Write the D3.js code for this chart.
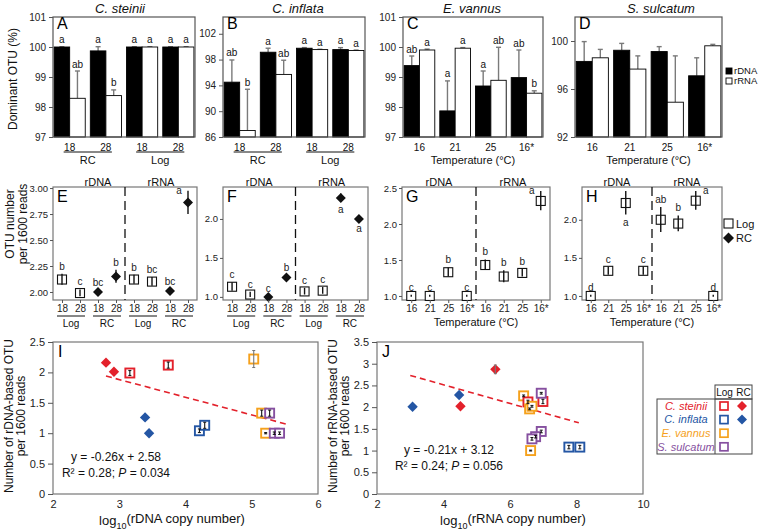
<!DOCTYPE html>
<html>
<head>
<meta charset="utf-8">
<script src="https://cdn.jsdelivr.net/npm/d3@7"></script>
<style>
  body { margin: 0; background: #fff; }
  svg { display: block; font-family: "Liberation Sans", Arial, sans-serif; }
</style>
</head>
<body>
<svg id="fig" width="760" height="532"></svg>
<script>
// Multi-panel figure: dominant OTU bars (A-D), OTU numbers (E-H), copy number regressions (I, J).

// ---------- data: row 1, dominant OTU (%) ----------
const groupsGrowth = ["18", "28", "18", "28"];
const groupsTemp = ["16", "21", "25", "16*"];

const aDNA = [100.0, 99.87, 100.0, 100.0];
const aDNAerr = [0.01, 0.14, 0.01, 0.01];
const aRNA = [98.29, 98.38, 100.0, 100.0];
const aRNAerr = [0.91, 0.19, 0.01, 0.01];
const aLetters = ["a", "ab", "a", "b", "a", "a", "a", "a"];

const bDNA = [94.5, 99.14, 99.76, 99.55];
const bDNAerr = [3.44, 0.62, 0.1, 0.3];
const bRNA = [87.0, 95.7, 99.55, 99.4];
const bRNAerr = [6.4, 2.2, 0.05, 0.08];
const bLetters = ["ab", "b", "a", "ab", "a", "a", "a", "a"];

const cDNA = [99.38, 97.87, 98.7, 98.98];
const cDNAerr = [0.32, 1.0, 0.5, 0.92];
const cRNA = [99.9, 99.96, 98.89, 98.46];
const cRNAerr = [0.03, 0.02, 1.1, 0.08];
const cLetters = ["ab", "a", "a", "a", "a", "ab", "ab", "b"];

const dDNA = [98.3, 99.23, 99.12, 97.1];
const dDNAerr = [1.65, 0.57, 0.41, 1.5];
const dRNA = [98.6, 97.66, 94.9, 99.6];
const dRNAerr = [0.7, 1.1, 3.86, 0.12];

// ---------- data: row 2, OTU number per 1600 reads ----------
const eVals = [2.12, 1.99, 2.0, 2.15, 2.12, 2.10, 2.01, 2.86];
const eErr = [0.05, 0.03, 0.01, 0.06, 0.04, 0.04, 0.01, 0.11];
const eKind = ["L", "L", "R", "R", "L", "L", "R", "R"];
const eLetters = ["b", "c", "bc", "b", "b", "bc", "bc", "a"];
const eLetterPos = ["t", "t", "t", "t", "t", "t", "t", "l"];

const fVals = [1.13, 1.03, 1.0, 1.25, 1.07, 1.08, 2.27, 2.0];
const fErr = [0.05, 0.03, 0.01, 0.03, 0.04, 0.04, 0.05, 0.02];
const fKind = ["L", "L", "R", "R", "L", "L", "R", "R"];
const fLetters = ["c", "c", "c", "b", "c", "c", "a", "a"];
const fLetterPos = ["t", "t", "t", "t", "t", "t", "b", "b"];

const gVals = [1.0, 1.0, 1.33, 1.0, 1.43, 1.27, 1.32, 2.32];
const gErr = [0.01, 0.01, 0.06, 0.01, 0.07, 0.08, 0.05, 0.13];
const gLetters = ["c", "c", "b", "c", "b", "b", "b", "a"];
const gLetterPos = ["t", "t", "t", "t", "t", "t", "t", "l"];

const hVals = [1.0, 1.33, 2.22, 1.33, 2.0, 1.95, 2.25, 1.0];
const hErr = [0.01, 0.05, 0.15, 0.05, 0.16, 0.1, 0.12, 0.01];
const hLetters = ["d", "c", "a", "c", "ab", "b", "a", "d"];
const hLetterPos = ["t", "t", "b", "t", "t", "t", "r", "t"];

// ---------- data: row 3, regressions ----------
// species: s = C. steinii, i = C. inflata, v = E. vannus, p = S. sulcatum; kind L = Log, R = RC
const iX = [2.80, 2.92, 3.16, 3.74, 3.39, 3.45, 4.21, 4.29, 5.03, 5.15, 5.21, 5.27, 5.34, 5.42];
const iY = [2.16, 2.01, 1.99, 2.12, 1.26, 1.00, 1.04, 1.13, 2.22, 1.33, 1.00, 1.33, 1.00, 1.00];
const iErr = [0, 0, 0.04, 0.05, 0, 0, 0.03, 0.05, 0.14, 0.05, 0.01, 0.05, 0.02, 0.02];
const iSpecies = ["s", "s", "s", "s", "i", "i", "i", "i", "v", "v", "v", "p", "p", "p"];
const iKind = ["R", "R", "L", "L", "R", "R", "L", "L", "L", "L", "L", "L", "L", "L"];
const iTrend = [[2.8, 1.94], [5.52, 1.15]];

const jX = [3.07, 4.47, 4.51, 5.56, 6.41, 6.54, 6.59, 6.66, 6.99, 6.94, 6.94, 6.77, 6.66, 6.62, 7.77, 8.10];
const jY = [2.01, 2.28, 2.02, 2.87, 2.26, 2.12, 1.96, 2.02, 2.13, 2.32, 1.44, 1.32, 1.27, 1.00, 1.08, 1.08];
const jErr = [0, 0, 0, 0.1, 0.02, 0.04, 0.02, 0.02, 0.05, 0.02, 0.03, 0.03, 0.03, 0.01, 0.04, 0.04];
const jSpecies = ["i", "i", "s", "s", "v", "s", "v", "v", "s", "p", "p", "p", "p", "v", "i", "i"];
const jKind = ["R", "R", "R", "R", "L", "L", "L", "L", "L", "L", "L", "L", "L", "L", "L", "L"];
const jTrend = [[3.0, 2.73], [8.07, 1.64]];

const legendSpecies = ["C. steinii", "C. inflata", "E. vannus", "S. sulcatum"];
const legendKeys = ["s", "i", "v", "p"];
const legendHasRC = [true, true, false, false];

const COLORS = { s: "#e3212b", i: "#2456a4", v: "#f5a11c", p: "#8650a0" };

const svg = d3.select("#fig");

function diamond(r) { return `M0,${-r}L${r},0L0,${r}L${-r},0Z`; }

function txt(g, x, y, s, o = {}) {
  return g.append("text").attr("x", x).attr("y", y).attr("dy", "0.35em")
    .attr("text-anchor", o.anchor || "middle").attr("font-size", o.size || 10)
    .attr("font-style", o.italic ? "italic" : null)
    .attr("fill", o.fill || "#111").text(s);
}

function vlabel(lines, x, y, step, size) {
  lines.forEach((s, k) => {
    svg.append("text").attr("transform", `translate(${x + k * step},${y}) rotate(-90)`)
      .attr("text-anchor", "middle").attr("dy", "0.35em").attr("font-size", size)
      .attr("fill", "#111").text(s);
  });
}

function styleAxis(sel, size) {
  sel.attr("font-family", null).attr("font-size", size);
  sel.select(".domain").remove();
  sel.selectAll("line").attr("stroke", "#555");
  sel.selectAll("text").attr("fill", "#222");
}

// ---------- row 1: bars ----------
const R1 = { top: 17, bottom: 137 };

function barPanel(p) {
  const g = svg.append("g");
  const x = d3.scaleBand().domain(d3.range(4)).range([p.x0, p.x1]).paddingInner(0.14).paddingOuter(0.03);
  const s = d3.scaleBand().domain(["dna", "rna"]).range([0, x.bandwidth()]);
  const y = d3.scaleLinear().domain(p.ydom).range([R1.bottom, R1.top]);
  const rows = [];
  p.dna.forEach((v, i) => rows.push({ i, k: "dna", v, e: p.dnaErr[i], l: p.letters ? p.letters[2 * i] : "" }));
  p.rna.forEach((v, i) => rows.push({ i, k: "rna", v, e: p.rnaErr[i], l: p.letters ? p.letters[2 * i + 1] : "" }));
  const cx = (d) => x(d.i) + s(d.k) + s.bandwidth() / 2;

  g.selectAll("line.err").data(rows).join("line").attr("class", "err")
    .attr("x1", cx).attr("x2", cx).attr("y1", (d) => y(d.v)).attr("y2", (d) => y(d.v + d.e))
    .attr("stroke", "#7a7a7a").attr("stroke-width", 1.4);
  g.selectAll("line.cap").data(rows).join("line").attr("class", "cap")
    .attr("x1", (d) => cx(d) - 2.5).attr("x2", (d) => cx(d) + 2.5)
    .attr("y1", (d) => y(d.v + d.e)).attr("y2", (d) => y(d.v + d.e))
    .attr("stroke", "#7a7a7a").attr("stroke-width", 1.4);
  g.selectAll("rect.bar").data(rows).join("rect").attr("class", "bar")
    .attr("x", (d) => x(d.i) + s(d.k)).attr("width", s.bandwidth())
    .attr("y", (d) => y(d.v)).attr("height", (d) => y(p.ydom[0]) - y(d.v))
    .attr("fill", (d) => (d.k === "dna" ? "#000" : "#fff"))
    .attr("stroke", "#000").attr("stroke-width", 0.9);
  g.selectAll("text.let").data(rows).join("text").attr("class", "let")
    .attr("x", cx).attr("y", (d) => y(d.v + d.e) - 7).attr("dy", "0.35em")
    .attr("text-anchor", "middle").attr("font-size", 10).attr("fill", "#111").text((d) => d.l);

  g.append("rect").attr("x", p.x0).attr("y", R1.top).attr("width", p.x1 - p.x0)
    .attr("height", R1.bottom - R1.top).attr("fill", "none").attr("stroke", "#555").attr("stroke-width", 1.2);
  g.append("g").attr("transform", `translate(${p.x0},0)`)
    .call(d3.axisLeft(y).tickValues(p.yticks).tickSize(4).tickPadding(3).tickFormat(d3.format("d")))
    .call(styleAxis, 10);

  p.groups.forEach((lab, i) => txt(g, x(i) + x.bandwidth() / 2, 147, lab, { size: 10 }));
  if (p.pairs) {
    p.pairs.forEach((lab, k) => {
      const a = x(2 * k) + x.bandwidth() / 2 - 6, b = x(2 * k + 1) + x.bandwidth() / 2 + 6;
      g.append("line").attr("x1", a).attr("x2", b).attr("y1", 152).attr("y2", 152)
        .attr("stroke", "#111").attr("stroke-width", 1);
      txt(g, (a + b) / 2, 160, lab, { size: 11 });
    });
  } else {
    txt(g, (p.x0 + p.x1) / 2, 160, "Temperature (°C)", { size: 11 });
  }
  txt(g, p.titleX, 8, p.title, { size: 13, italic: true });
  g.append("text").attr("x", p.x0 + 4).attr("y", R1.top + 12).attr("font-size", 16).text(p.tag);
}

barPanel({ x0: 53, x1: 195, ydom: [97, 101], yticks: [97, 98, 99, 100, 101], dna: aDNA, dnaErr: aDNAerr,
  rna: aRNA, rnaErr: aRNAerr, letters: aLetters, groups: groupsGrowth, pairs: ["RC", "Log"],
  title: "C. steinii", titleX: 120, tag: "A" });
barPanel({ x0: 223, x1: 365, ydom: [86, 104.6], yticks: [86, 90, 94, 98, 102], dna: bDNA, dnaErr: bDNAerr,
  rna: bRNA, rnaErr: bRNAerr, letters: bLetters, groups: groupsGrowth, pairs: ["RC", "Log"],
  title: "C. inflata", titleX: 298, tag: "B" });
barPanel({ x0: 403, x1: 543, ydom: [97, 101], yticks: [97, 98, 99, 100, 101], dna: cDNA, dnaErr: cDNAerr,
  rna: cRNA, rnaErr: cRNAerr, letters: cLetters, groups: groupsTemp, pairs: null,
  title: "E. vannus", titleX: 472, tag: "C" });
barPanel({ x0: 575, x1: 722, ydom: [92, 102], yticks: [92, 96, 100], dna: dDNA, dnaErr: dDNAerr,
  rna: dRNA, rnaErr: dRNAerr, letters: null, groups: groupsTemp, pairs: null,
  title: "S. sulcatum", titleX: 661, tag: "D" });

vlabel(["Dominant OTU (%)"], 13, 79, 0, 12);

// bar legend
[["rDNA", "#000"], ["rRNA", "#fff"]].forEach(([lab, fill], k) => {
  svg.append("rect").attr("x", 726).attr("y", 68 + k * 10).attr("width", 6).attr("height", 6)
    .attr("fill", fill).attr("stroke", "#000").attr("stroke-width", 0.9);
  txt(svg, 734, 71 + k * 10, lab, { size: 9.5, anchor: "start" });
});

// ---------- row 2: OTU numbers ----------
const R2 = { top: 187, bottom: 300 };

function dotPanel(p) {
  const g = svg.append("g");
  const x = d3.scalePoint().domain(d3.range(8)).range([p.x0, p.x1]).padding(0.5);
  const y = d3.scaleLinear().domain(p.ydom).range([R2.bottom, R2.top]);
  const pts = p.vals.map((v, i) => ({ i, v, e: p.err[i], k: p.kind[i], l: p.letters[i], pos: p.letterPos[i] }));

  g.append("rect").attr("x", p.x0).attr("y", R2.top).attr("width", p.x1 - p.x0)
    .attr("height", R2.bottom - R2.top).attr("fill", "none").attr("stroke", "#777").attr("stroke-width", 1.2);
  const mid = (x(3) + x(4)) / 2;
  g.append("line").attr("x1", mid).attr("x2", mid).attr("y1", R2.top).attr("y2", R2.bottom)
    .attr("stroke", "#111").attr("stroke-width", 1.3).attr("stroke-dasharray", "9,5");

  g.selectAll("rect.sq").data(pts.filter((d) => d.k === "L")).join("rect").attr("class", "sq")
    .attr("x", (d) => x(d.i) - 4.5).attr("y", (d) => y(d.v) - 4.5).attr("width", 9).attr("height", 9)
    .attr("fill", "#fff").attr("stroke", "#111").attr("stroke-width", 1.1);
  g.selectAll("line.err").data(pts).join("line").attr("class", "err")
    .attr("x1", (d) => x(d.i)).attr("x2", (d) => x(d.i))
    .attr("y1", (d) => y(d.v - d.e)).attr("y2", (d) => y(d.v + d.e) - 0.5)
    .attr("stroke", "#111").attr("stroke-width", 1.4);
  g.selectAll("path.dm").data(pts.filter((d) => d.k === "R")).join("path").attr("class", "dm")
    .attr("transform", (d) => `translate(${x(d.i)},${y(d.v)})`).attr("d", diamond(5)).attr("fill", "#111");

  const lx = (d) => x(d.i) + (d.pos === "l" ? -9 : d.pos === "r" ? 10 : 0);
  const ly = (d) => (d.pos === "b" ? y(d.v - d.e) + 8 : d.pos === "t" ? y(d.v + d.e) - 8 : y(d.v + d.e) - 1);
  g.selectAll("text.let").data(pts).join("text").attr("class", "let")
    .attr("x", lx).attr("y", ly).attr("dy", "0.35em").attr("text-anchor", "middle")
    .attr("font-size", 10).attr("fill", "#222").text((d) => d.l);

  g.append("g").attr("transform", `translate(${p.x0},0)`)
    .call(d3.axisLeft(y).tickValues(p.yticks).tickSize(3).tickPadding(2).tickFormat(d3.format(p.fmt)))
    .call(styleAxis, 9.5);
  g.append("g").attr("transform", `translate(0,${R2.bottom})`)
    .call(d3.axisBottom(x).tickSize(3).tickPadding(2).tickFormat((i) => p.groups[i % 4]))
    .call(styleAxis, 10);

  txt(g, (p.x0 + mid) / 2 + p.headShift, 182, "rDNA", { size: 11 });
  txt(g, (mid + p.x1) / 2, 182, "rRNA", { size: 11 });
  if (p.pairs) {
    p.pairs.forEach((lab, k) => {
      const a = x(2 * k) - 5, b = x(2 * k + 1) + 5;
      g.append("line").attr("x1", a).attr("x2", b).attr("y1", 316).attr("y2", 316)
        .attr("stroke", "#111").attr("stroke-width", 1);
      txt(g, (a + b) / 2, 323, lab, { size: 10 });
    });
  } else {
    txt(g, (p.x0 + p.x1) / 2, 322, "Temperature (°C)", { size: 11 });
  }
  g.append("text").attr("x", p.x0 + 4).attr("y", R2.top + 15).attr("font-size", 16).text(p.tag);
}

dotPanel({ x0: 53, x1: 197, ydom: [1.923, 3.01], yticks: [2, 2.25, 2.5, 2.75, 3], fmt: ".2f",
  vals: eVals, err: eErr, kind: eKind, letters: eLetters, letterPos: eLetterPos,
  groups: groupsGrowth.slice(0, 2).concat(groupsGrowth.slice(0, 2)), pairs: ["Log", "RC", "Log", "RC"], headShift: 9, tag: "E" });
dotPanel({ x0: 223, x1: 368, ydom: [0.96, 2.41], yticks: [1, 1.5, 2], fmt: ".1f",
  vals: fVals, err: fErr, kind: fKind, letters: fLetters, letterPos: fLetterPos,
  groups: groupsGrowth.slice(0, 2).concat(groupsGrowth.slice(0, 2)), pairs: ["Log", "RC", "Log", "RC"], headShift: 0, tag: "F" });
dotPanel({ x0: 402, x1: 550, ydom: [0.944, 2.514], yticks: [1, 1.5, 2, 2.5], fmt: ".1f",
  vals: gVals, err: gErr, kind: gVals.map(() => "L"), letters: gLetters, letterPos: gLetterPos,
  groups: groupsTemp, pairs: null, headShift: 0, tag: "G" });
dotPanel({ x0: 582, x1: 722, ydom: [0.947, 2.43], yticks: [1, 1.5, 2], fmt: ".1f",
  vals: hVals, err: hErr, kind: hVals.map(() => "L"), letters: hLetters, letterPos: hLetterPos,
  groups: groupsTemp, pairs: null, headShift: 0, tag: "H" });

vlabel(["OTU number", "per 1600 reads"], 10, 224, 13, 12);

// dot legend
svg.append("rect").attr("x", 724).attr("y", 219).attr("width", 9).attr("height", 9)
  .attr("fill", "#fff").attr("stroke", "#111").attr("stroke-width", 1.1);
txt(svg, 736, 224, "Log", { size: 11, anchor: "start" });
svg.append("path").attr("transform", "translate(728.5,238)").attr("d", diamond(5.5)).attr("fill", "#111");
txt(svg, 736, 238, "RC", { size: 11, anchor: "start" });

// ---------- row 3: regressions ----------
const R3 = { top: 342, bottom: 494 };

function scatterPanel(p) {
  const g = svg.append("g");
  const x = d3.scaleLinear().domain(p.xdom).range([p.x0, p.x1]);
  const y = d3.scaleLinear().domain(p.ydom).range([R3.bottom, R3.top]);
  const pts = p.xs.map((v, i) => ({ x: v, y: p.ys[i], e: p.err[i], sp: p.species[i], k: p.kind[i] }));

  g.append("rect").attr("x", p.x0).attr("y", R3.top).attr("width", p.x1 - p.x0)
    .attr("height", R3.bottom - R3.top).attr("fill", "none").attr("stroke", "#777").attr("stroke-width", 1.2);
  g.append("g").attr("transform", `translate(${p.x0},0)`)
    .call(d3.axisLeft(y).tickValues(p.yticks).tickSize(5).tickPadding(3).tickFormat((d) => String(d)))
    .call(styleAxis, 11);
  g.append("g").attr("transform", `translate(0,${R3.bottom})`)
    .call(d3.axisBottom(x).tickValues(p.xticks).tickSize(0).tickPadding(6).tickFormat((d) => String(d)))
    .call(styleAxis, 11);

  g.append("line").attr("x1", x(p.trend[0][0])).attr("y1", y(p.trend[0][1]))
    .attr("x2", x(p.trend[1][0])).attr("y2", y(p.trend[1][1]))
    .attr("stroke", COLORS.s).attr("stroke-width", 1.6).attr("stroke-dasharray", "6,4");

  g.selectAll("rect.sq").data(pts.filter((d) => d.k === "L")).join("rect").attr("class", "sq")
    .attr("x", (d) => x(d.x) - 4.5).attr("y", (d) => y(d.y) - 4.5).attr("width", 9).attr("height", 9)
    .attr("fill", "#fff").attr("stroke", (d) => COLORS[d.sp]).attr("stroke-width", 1.9);
  g.selectAll("path.dm").data(pts.filter((d) => d.k === "R")).join("path").attr("class", "dm")
    .attr("transform", (d) => `translate(${x(d.x)},${y(d.y)})`).attr("d", diamond(5.2))
    .attr("fill", (d) => COLORS[d.sp]);
  const eb = pts.filter((d) => d.e > 0);
  const ecol = (d) => (d.e > 0.09 ? "#777" : "#111");
  g.selectAll("line.err").data(eb).join("line").attr("class", "err")
    .attr("x1", (d) => x(d.x)).attr("x2", (d) => x(d.x))
    .attr("y1", (d) => y(d.y - d.e)).attr("y2", (d) => y(d.y + d.e))
    .attr("stroke", ecol).attr("stroke-width", 1.1);
  [-1, 1].forEach((sgn) => {
    g.selectAll(null).data(eb).join("line")
      .attr("x1", (d) => x(d.x) - 1.5).attr("x2", (d) => x(d.x) + 1.5)
      .attr("y1", (d) => y(d.y + sgn * d.e)).attr("y2", (d) => y(d.y + sgn * d.e))
      .attr("stroke", ecol).attr("stroke-width", 1);
  });

  const eq = g.append("text").attr("x", p.eqX).attr("y", p.eqY).attr("text-anchor", "middle")
    .attr("font-size", 12).attr("fill", "#111").attr("dy", "0.35em");
  eq.text(p.eq);
  const r2 = g.append("text").attr("x", p.eqX).attr("y", p.eqY + 16).attr("text-anchor", "middle")
    .attr("font-size", 12).attr("fill", "#111").attr("dy", "0.35em");
  r2.append("tspan").text(`R² = ${p.r2}; `);
  r2.append("tspan").attr("font-style", "italic").text("P");
  r2.append("tspan").text(` = ${p.pval}`);

  const xl = g.append("text").attr("x", p.labelX).attr("y", 520).attr("text-anchor", "middle")
    .attr("font-size", 13).attr("fill", "#111").attr("dy", "0.35em");
  xl.append("tspan").text("log");
  xl.append("tspan").attr("font-size", 9).attr("dy", "0.45em").text("10");
  xl.append("tspan").attr("dy", "-0.45em").text(`(${p.what} copy number)`);

  g.append("text").attr("x", p.x0 + 5).attr("y", R3.top + 15).attr("font-size", 16).text(p.tag);
}

scatterPanel({ x0: 53, x1: 318, xdom: [2, 6], ydom: [0, 2.5], xticks: [2, 3, 4, 5, 6],
  yticks: [0, 0.5, 1, 1.5, 2, 2.5], xs: iX, ys: iY, err: iErr, species: iSpecies, kind: iKind,
  trend: iTrend, eq: "y = -0.26x + 2.58", r2: "0.28", pval: "0.034", eqX: 116, eqY: 457,
  what: "rDNA", labelX: 172, tag: "I" });
scatterPanel({ x0: 377, x1: 643, xdom: [2, 10], ydom: [0, 3.5], xticks: [2, 4, 6, 8, 10],
  yticks: [0, 0.5, 1, 1.5, 2, 2.5, 3, 3.5], xs: jX, ys: jY, err: jErr, species: jSpecies, kind: jKind,
  trend: jTrend, eq: "y = -0.21x + 3.12", r2: "0.24", pval: "0.056", eqX: 449, eqY: 450,
  what: "rRNA", labelX: 513, tag: "J" });

vlabel(["Number of rDNA-based OTU", "per 1600 reads"], 9, 416, 12, 12);
vlabel(["Number of rRNA-based OTU", "per 1600 reads"], 333, 416, 12, 12);

// species legend table
const lg = svg.append("g");
const rowH = 13.6, tTop = 399, tBottom = 454;
lg.append("rect").attr("x", 657).attr("y", tTop).attr("width", 95).attr("height", tBottom - tTop)
  .attr("fill", "none").attr("stroke", "#444").attr("stroke-width", 1);
lg.append("rect").attr("x", 715).attr("y", 385).attr("width", 37).attr("height", tTop - 385)
  .attr("fill", "none").attr("stroke", "#444").attr("stroke-width", 1);
lg.append("line").attr("x1", 715).attr("x2", 715).attr("y1", tTop).attr("y2", tBottom)
  .attr("stroke", "#444").attr("stroke-width", 1);
txt(lg, 724.5, 392, "Log", { size: 10 });
txt(lg, 743.5, 392, "RC", { size: 10 });
legendSpecies.forEach((name, k) => {
  const cy = tTop + 7 + k * rowH, col = COLORS[legendKeys[k]];
  txt(lg, 686, cy, name, { size: 11, italic: true, fill: col });
  lg.append("rect").attr("x", 720).attr("y", cy - 4).attr("width", 8).attr("height", 8)
    .attr("fill", "#fff").attr("stroke", col).attr("stroke-width", 1.7);
  if (legendHasRC[k]) lg.append("path").attr("transform", `translate(742,${cy})`).attr("d", diamond(5)).attr("fill", col);
});
</script>
</body>
</html>
